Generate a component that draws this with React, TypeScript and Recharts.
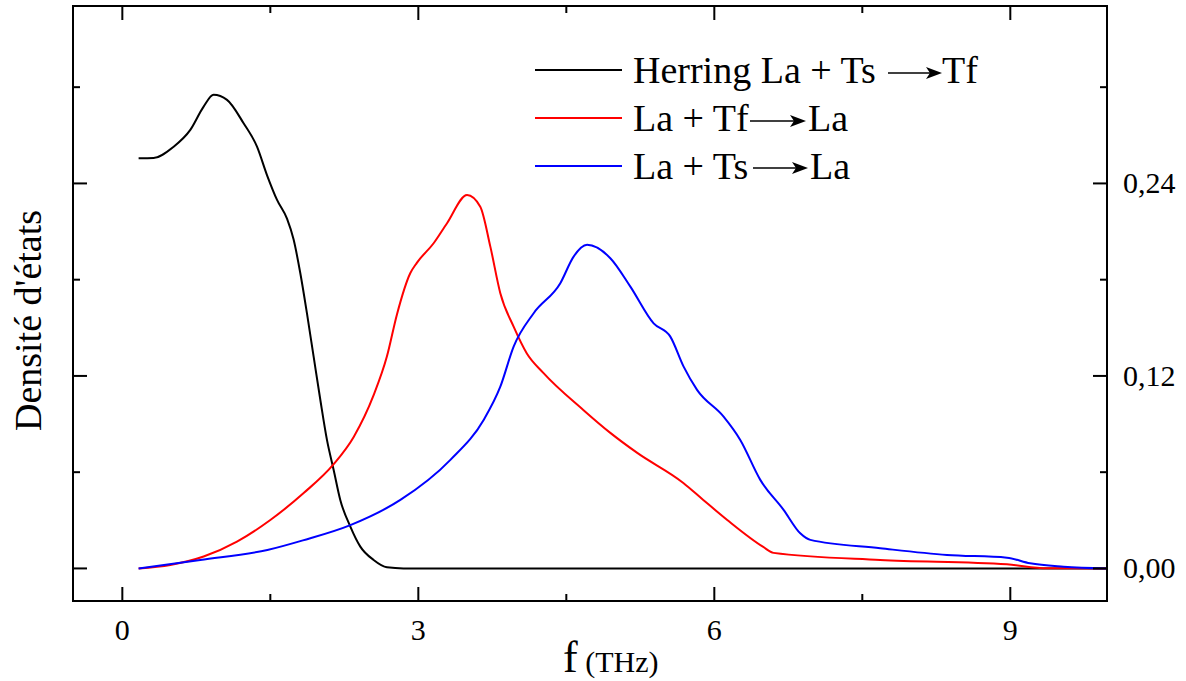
import { LineChart, Line, XAxis, YAxis, Legend } from 'recharts';

const FONT = "'Liberation Serif', 'Times New Roman', Times, serif";

// Herring La + Ts -> Tf (black)
const HERRING_X = [0.165, 0.317, 0.52, 0.689, 0.824, 0.925, 1.061, 1.229, 1.365, 1.466, 1.568, 1.669, 1.736, 1.804, 1.871, 1.939, 2.007, 2.074, 2.142, 2.209, 2.311, 2.412, 2.547, 2.682, 2.85, 4, 6, 8, 10];
const HERRING_Y = [0.2557, 0.2559, 0.2629, 0.2734, 0.2879, 0.2952, 0.2921, 0.2775, 0.2629, 0.2452, 0.2297, 0.218, 0.205, 0.184, 0.1591, 0.132, 0.105, 0.0801, 0.0614, 0.0427, 0.0261, 0.0136, 0.0053, 0.0007, 0, 0, 0, 0, 0];

// La + Tf -> La (red)
const TF_X = [0.165, 0.486, 0.824, 1.162, 1.5, 1.838, 2.142, 2.345, 2.547, 2.682, 2.784, 2.918, 2.985, 3.155, 3.291, 3.494, 3.628, 3.73, 3.831, 3.966, 4.1, 4.267, 4.672, 4.946, 5.219, 5.686, 5.888, 6.131, 6.496, 6.6, 7.68, 8.966, 9.37, 10];
const TF_Y = [0, 0.0022, 0.0074, 0.0167, 0.0302, 0.047, 0.065, 0.082, 0.108, 0.1322, 0.1585, 0.184, 0.1905, 0.2027, 0.2152, 0.2328, 0.2255, 0.2006, 0.1716, 0.1507, 0.134, 0.1219, 0.0988, 0.0845, 0.072, 0.0533, 0.0427, 0.0302, 0.0134, 0.0097, 0.0053, 0.0026, 0.0001, 0];

// La + Ts -> La (blue)
const TS_X = [0.165, 0.79, 1.47, 1.83, 2.311, 2.818, 3.325, 3.662, 3.831, 3.966, 4.169, 4.439, 4.574, 4.71, 4.946, 5.149, 5.385, 5.554, 5.689, 5.825, 6.094, 6.263, 6.466, 6.702, 6.871, 6.973, 7.682, 8.358, 8.966, 9.2, 9.54, 10];
const TS_Y = [0, 0.0053, 0.0115, 0.0175, 0.027, 0.0427, 0.0677, 0.0926, 0.1133, 0.1383, 0.1591, 0.1778, 0.1944, 0.2017, 0.1934, 0.1757, 0.1528, 0.1445, 0.1258, 0.1113, 0.0946, 0.0801, 0.0552, 0.0365, 0.0219, 0.0178, 0.0126, 0.0084, 0.0067, 0.0032, 0.0011, 0];

const X_TICKS = [0, 1.5, 3, 4.5, 6, 7.5, 9];
const X_LABELS = [0, 3, 6, 9];
const Y_TICKS = [0, 0.06, 0.12, 0.18, 0.24, 0.3];
const Y_LABELS = [0, 0.12, 0.24];

const LEGEND_ROWS = [
  { color: '#000000', from: 'Herring La + Ts', to: 'Tf', arrowStart: 888, arrowEnd: 942, toX: 942, dy: 3 },
  { color: '#ff0000', from: 'La + Tf', to: 'La', arrowStart: 750, arrowEnd: 806, toX: 808, dy: 3 },
  { color: '#0000ff', from: 'La + Ts', to: 'La', arrowStart: 753, arrowEnd: 808, toX: 810, dy: 2 },
];

const toPoints = (xs: number[], ys: number[]) => xs.map((x, i) => ({ x, y: ys[i] }));

const herring = toPoints(HERRING_X, HERRING_Y);
const tfLa = toPoints(TF_X, TF_Y);
const tsLa = toPoints(TS_X, TS_Y);

const BottomTick = (props: any) => {
  const { x, y, payload } = props;
  const major = X_LABELS.includes(payload.value);
  return (
    <g>
      <line x1={x} x2={x} y1={y} y2={y - (major ? 14 : 7)} stroke="#000" strokeWidth={2} />
      {major && (
        <text x={x} y={y + 39} textAnchor="middle" fontSize={30} fontFamily={FONT} fill="#000">
          {payload.value}
        </text>
      )}
    </g>
  );
};

const TopTick = (props: any) => {
  const { x, y, payload } = props;
  const major = X_LABELS.includes(payload.value);
  return <line x1={x} x2={x} y1={y} y2={y + (major ? 14 : 7)} stroke="#000" strokeWidth={2} />;
};

const LeftTick = (props: any) => {
  const { x, y, payload } = props;
  const major = Y_LABELS.includes(payload.value);
  return <line x1={x} x2={x + (major ? 14 : 7)} y1={y} y2={y} stroke="#000" strokeWidth={2} />;
};

const RightTick = (props: any) => {
  const { x, y, payload } = props;
  const major = Y_LABELS.includes(payload.value);
  return (
    <g>
      <line x1={x} x2={x - (major ? 14 : 7)} y1={y} y2={y} stroke="#000" strokeWidth={2} />
      {major && (
        <text x={x + 16} y={y + 10} textAnchor="start" fontSize={30} fontFamily={FONT} fill="#000">
          {payload.value.toFixed(2).replace('.', ',')}
        </text>
      )}
    </g>
  );
};

const XTitle = (props: any) => {
  const { viewBox } = props;
  return (
    <text x={viewBox.x + 490} y={viewBox.y + 71} fontFamily={FONT} fill="#000">
      <tspan fontSize={44}>f</tspan>
      <tspan fontSize={30}> (THz)</tspan>
    </text>
  );
};

const YTitle = (props: any) => {
  const { viewBox } = props;
  const cx = viewBox.x + viewBox.width - 32;
  const cy = viewBox.y + viewBox.height / 2 + 17;
  return (
    <text x={cx} y={cy} transform={`rotate(-90, ${cx}, ${cy})`} textAnchor="middle" fontSize={38} fontFamily={FONT} fill="#000">
      Densité d'états
    </text>
  );
};

const LEG_LEFT = 530;

const LegendBox = () => (
  <svg width={460} height={150} style={{ display: 'block' }}>
    {LEGEND_ROWS.map((row, i) => {
      const ly = 30 + i * 48;
      const ay = ly + row.dy;
      const a0 = row.arrowStart - LEG_LEFT;
      const a1 = row.arrowEnd - LEG_LEFT;
      return (
        <g key={i}>
          <line x1={5} x2={92} y1={ly} y2={ly} stroke={row.color} strokeWidth={2} />
          <text x={103} y={ly + 13} fontSize={38} fontFamily={FONT} fill="#000">
            {row.from}
          </text>
          <line x1={a0} x2={a1 - 8} y1={ay} y2={ay} stroke="#000" strokeWidth={1.5} />
          <polygon
            points={`${a1},${ay} ${a1 - 16},${ay - 6} ${a1 - 12},${ay} ${a1 - 16},${ay + 6}`}
            fill="#000"
          />
          <text x={row.toX - LEG_LEFT} y={ly + 13} fontSize={38} fontFamily={FONT} fill="#000">
            {row.to}
          </text>
        </g>
      );
    })}
  </svg>
);

export default function App() {
  const axisLine = { stroke: '#000', strokeWidth: 2, strokeLinecap: 'square' as const };
  return (
    <div style={{ position: 'absolute', left: 0, top: 0, background: '#fff' }}>
      <LineChart width={1186} height={681} margin={{ top: 5, right: 78, bottom: 79, left: 72 }}>
        <XAxis
          xAxisId="b"
          type="number"
          dataKey="x"
          domain={[-0.5, 9.98]}
          allowDataOverflow
          ticks={X_TICKS}
          interval={0}
          height={1}
          tickSize={0}
          tickMargin={0}
          tickLine={false}
          axisLine={axisLine}
          tick={<BottomTick />}
          label={<XTitle />}
        />
        <XAxis
          xAxisId="t"
          orientation="top"
          type="number"
          dataKey="x"
          domain={[-0.5, 9.98]}
          allowDataOverflow
          ticks={X_TICKS}
          interval={0}
          height={1}
          tickSize={0}
          tickMargin={0}
          tickLine={false}
          axisLine={axisLine}
          tick={<TopTick />}
        />
        <YAxis
          yAxisId="l"
          type="number"
          domain={[-0.0203, 0.3506]}
          allowDataOverflow
          ticks={Y_TICKS}
          interval={0}
          width={1}
          tickSize={0}
          tickMargin={0}
          tickLine={false}
          axisLine={axisLine}
          tick={<LeftTick />}
          label={<YTitle />}
        />
        <YAxis
          yAxisId="r"
          orientation="right"
          type="number"
          domain={[-0.0203, 0.3506]}
          allowDataOverflow
          ticks={Y_TICKS}
          interval={0}
          width={1}
          tickSize={0}
          tickMargin={0}
          tickLine={false}
          axisLine={axisLine}
          tick={<RightTick />}
        />
        <Legend
          layout="vertical"
          align="center"
          verticalAlign="middle"
          wrapperStyle={{ left: LEG_LEFT, top: 40, width: 460, height: 150 }}
          content={<LegendBox />}
        />
        <Line xAxisId="b" yAxisId="l" data={herring} dataKey="y" name="Herring La + Ts → Tf" type="monotone" stroke="#000000" strokeWidth={2} dot={false} isAnimationActive={false} />
        <Line xAxisId="b" yAxisId="l" data={tfLa} dataKey="y" name="La + Tf → La" type="monotone" stroke="#ff0000" strokeWidth={2} dot={false} isAnimationActive={false} />
        <Line xAxisId="b" yAxisId="l" data={tsLa} dataKey="y" name="La + Ts → La" type="monotone" stroke="#0000ff" strokeWidth={2} dot={false} isAnimationActive={false} />
      </LineChart>
    </div>
  );
}
